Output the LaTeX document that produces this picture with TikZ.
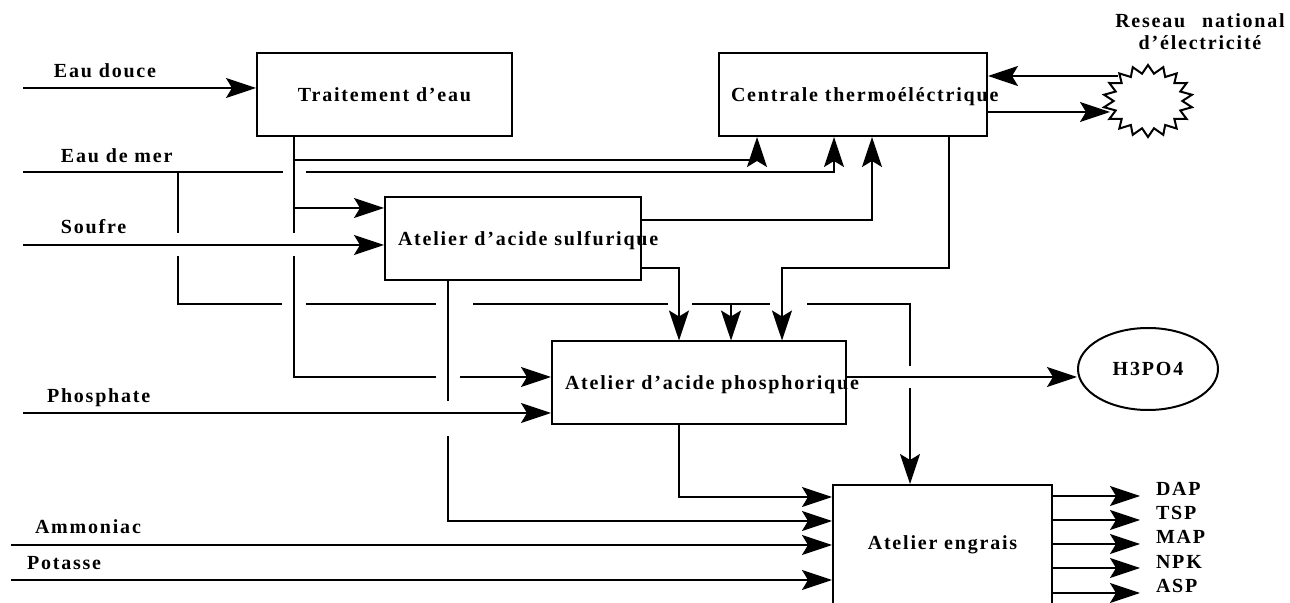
\documentclass[tikz,border=0pt]{standalone}
\usepackage{fontspec}
\newfontfamily\diagfont[LetterSpace=9]{Liberation Serif}
\usetikzlibrary{arrows.meta,shapes.geometric}

\begin{document}
\begin{tikzpicture}[x=0.5pt,y=-0.5pt,>={Stealth[length=15pt,width=10pt,inset=3pt]},
                    line width=1pt,
                    every node/.style={font=\diagfont\bfseries\fontsize{10}{12}\selectfont},
                    unit node/.style={rectangle,draw,inner sep=0pt,minimum height=41.5pt,
                                      text height=7pt,text depth=0pt},
                    feed node/.style={inner sep=0pt,anchor=base west}]
  \useasboundingbox (0,0) rectangle (1290,603);
  \clip (0,0) rectangle (1290,603);

  % units
  \node[unit node,minimum width=127.5pt] (traitement) at (384.5,94.5) {Traitement d’eau};
  \node[unit node,minimum width=134pt,inner xsep=6pt] (centrale) at (853,94.5)
    {\makebox[122pt][l]{Centrale thermoéléctrique}};
  \node[unit node,minimum width=128pt,inner xsep=6.5pt] (sulfurique) at (513,238.5)
    {\makebox[115pt][l]{Atelier d’acide sulfurique}};
  \node[unit node,minimum width=147pt,inner xsep=6.5pt] (phosphorique) at (699,383)
    {\makebox[134pt][l]{Atelier d’acide phosphorique}};
  \node[unit node,minimum width=109.5pt,text height=32.25pt,text depth=45.25pt] (engrais)
    at (942.5,562.5) {Atelier engrais};
  \node[ellipse,draw,inner sep=0pt,minimum width=70pt,minimum height=41pt] (h3po4)
    at (1148,369) {H3PO4};
  \begin{scope}[shift={(1148,101)},xscale=1.24]
    \node[star,star points=18,star point ratio=1.3,draw,inner sep=0pt,minimum size=36pt,
          transform shape] (reseau) at (0,0) {};
  \end{scope}
  \node[align=center,inner sep=0pt,anchor=north] (reseau label) at (1200,13)
    {Reseau\hspace*{5pt} national\\[-1pt]d’électricité};

  % raw materials
  \node[feed node] (douce label) at (53,78) {Eau douce};
  \node[feed node] (mer label) at (60,163) {Eau de mer};
  \node[feed node] (soufre label) at (60,234) {Soufre};
  \node[feed node] (phosphate label) at (46,403) {Phosphate};
  \node[feed node] (ammoniac label) at (34,534) {Ammoniac};
  \node[feed node] (potasse label) at (26,570) {Potasse};
  \coordinate (douce) at (23,88);
  \coordinate (mer) at (23,172);
  \coordinate (soufre) at (23,245);
  \coordinate (phosphate) at (23,413);
  \coordinate (ammoniac) at (11,545);
  \coordinate (potasse) at (11,580);

  % fresh water
  \draw[->] (douce) -- (traitement.west |- douce);
  \draw[->] (traitement.south -| 294,0) |- (757,160) -- (centrale.south -| 757,0);
  \draw[->] (294,160) |- (sulfurique.west |- 0,208);
  \draw (294,208) -- (294,233);
  \draw (294,256) |- (436,377);
  \draw[->] (460,377) -- (phosphorique.west |- 0,377);

  % sea water
  \draw (mer) -- (283,172);
  \draw[->] (306,172) -| (centrale.south -| 834,0);
  \draw (178,172) -- (178,233);
  \draw (178,256) |- (282,304);
  \draw (306,304) -- (436,304);
  \draw (473,304) -- (668,304);
  \draw (692,304) -- (770,304);
  \draw (807,304) -| (910,366);
  \draw[->] (910,388) -- (engrais.north -| 910,0);
  \draw[->] (731,304) -- (phosphorique.north -| 731,0);

  % sulphur and sulfuric acid
  \draw[->] (soufre) -- (sulfurique.west |- soufre);
  \draw[->] (sulfurique.east |- 0,220) -| (centrale.south -| 872,0);
  \draw[->] (sulfurique.east |- 0,268) -| (phosphorique.north -| 679,0);
  \draw (sulfurique.south -| 448,0) -- (448,401);
  \draw[->] (448,436) |- (engrais.west |- 0,521);

  % power plant
  \draw[->] (centrale.south -| 949,0) |- (782,268) -- (phosphorique.north -| 782,0);
  \draw[->] (1118,76) -- (centrale.east |- 0,76);
  \draw[->] (centrale.east |- 0,112) -- (1110,112);

  % phosphoric acid and fertilisers
  \draw[->] (phosphate) -- (phosphorique.west |- phosphate);
  \draw[->] (phosphorique.east |- 0,377) -- (h3po4.west |- 0,377);
  \draw[->] (phosphorique.south -| 679,0) |- (engrais.west |- 0,497);
  \draw[->] (ammoniac) -- (engrais.west |- ammoniac);
  \draw[->] (potasse) -- (engrais.west |- potasse);
  \foreach \y/\grade in {496/DAP,520/TSP,544/MAP,568/NPK,593/ASP}{
    \node[feed node] (\grade) at (1155,\y) {\grade};
    \draw[->,shorten >=7.5pt] (engrais.east |- \grade.base west) -- (\grade.base west);
  }
\end{tikzpicture}
\end{document}
